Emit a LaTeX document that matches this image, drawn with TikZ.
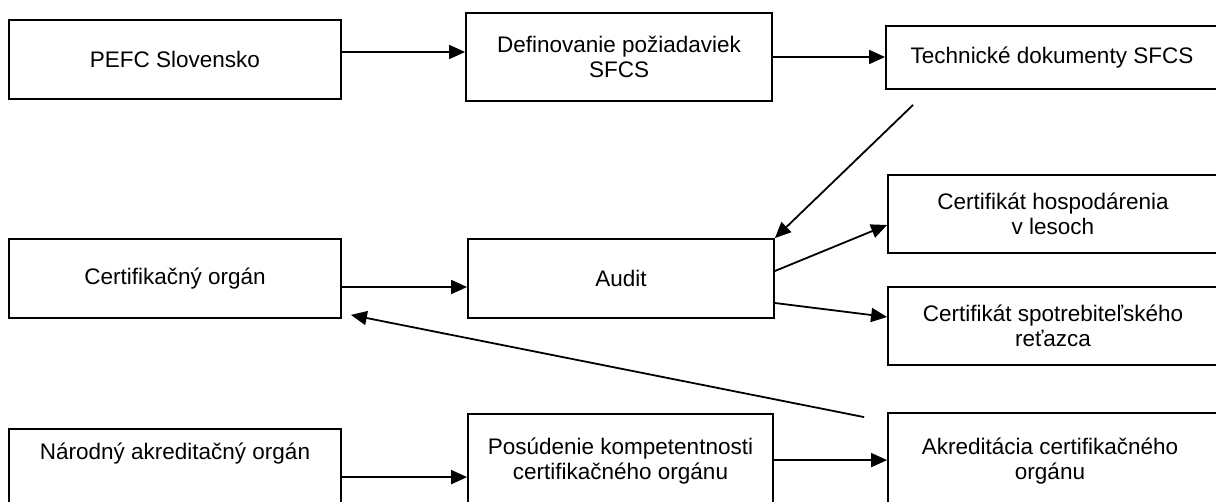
\documentclass[tikz,border=0pt]{standalone}
\usepackage{fontspec}
\setmainfont{Liberation Sans}
\usetikzlibrary{arrows.meta}
\begin{document}
\begin{tikzpicture}[x=1pt,y=-1pt,
  box/.style={draw=black, line width=1.8pt, rectangle, inner sep=0pt, align=center,
    font=\fontsize{22.5}{25}\selectfont},
  txt/.style={inner sep=0pt, align=center, font=\fontsize{22.5}{25}\selectfont},
  conn/.style={line width=1.8pt, -{Triangle[length=16pt,width=14pt]}}]
\clip (0,0) rectangle (1216,502);
\fill[white] (0,0) rectangle (1216,502);
% top row
\node[box, minimum width=332pt, minimum height=79pt] (pefc) at (175,59.5) {PEFC Slovensko};
\node[box, minimum width=306pt, minimum height=88pt] (def) at (619,57) {Definovanie požiadaviek\\SFCS};
\node[box, minimum width=332pt, minimum height=63pt] (tech) at (1052,57.5) {Technické dokumenty SFCS};
% middle row
\node[box, minimum width=330pt, minimum height=78pt] (hosp) at (1053,214) {Certifikát hospodárenia\\v lesoch};
\node[box, minimum width=330pt, minimum height=78pt] (spot) at (1053,326) {Certifikát spotrebiteľského\\reťazca};
\node[box, minimum width=332pt, minimum height=79pt] (cert) at (175,278.5) {Certifikačný orgán};
\node[box, minimum width=306pt, minimum height=79pt] (audit) at (621,278.5) {Audit};
% bottom row (boxes run past the lower edge)
\node[box, minimum width=332pt, minimum height=91pt] (nar) at (175,474.5) {};
\node[box, minimum width=305pt, minimum height=106pt] (pos) at (620.5,467) {};
\node[box, minimum width=330pt, minimum height=107pt] (akr) at (1053,466.5) {};
\node[txt, anchor=base] (nartxt) at (175,460) {Národný akreditačný orgán};
\node[txt] (postxt) at (620.5,461.5) {Posúdenie kompetentnosti\\certifikačného orgánu};
\node[txt] (akrtxt) at (1050,461.5) {Akreditácia certifikačného\\orgánu};
% connectors
\draw[conn] ([yshift=7.5pt]pefc.east) -- ([yshift=7.5pt]pefc.east -| def.west);
\draw[conn] (def.east) -- (def.east -| tech.west);
\draw[conn] ([xshift=28pt,yshift=-15pt]tech.south west) -- (audit.north east);
\draw[conn] ([yshift=-8.5pt]cert.east) -- ([yshift=-8.5pt]cert.east -| audit.west);
\draw[conn] ([yshift=7.5pt]audit.east) -- ([yshift=-11pt]hosp.west);
\draw[conn] ([yshift=-24.5pt]audit.east) -- ([yshift=9pt]spot.west);
\draw[conn] ([xshift=-23pt,yshift=-5pt]akr.north west) -- ([xshift=9pt,yshift=4pt]cert.south east);
\draw[conn] ([yshift=-49pt]nar.north east) -- ([yshift=-49pt]nar.north east -| pos.west);
\draw[conn] ([yshift=-47pt]pos.north east) -- ([yshift=-47pt]pos.north east -| akr.west);
\end{tikzpicture}
\end{document}
